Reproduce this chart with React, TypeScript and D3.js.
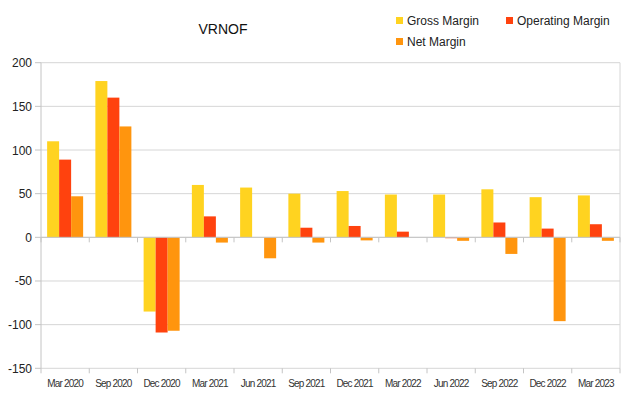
import React from "react";
import * as d3 from "d3";

const categories = ["Mar 2020", "Sep 2020", "Dec 2020", "Mar 2021", "Jun 2021", "Sep 2021", "Dec 2021", "Mar 2022", "Jun 2022", "Sep 2022", "Dec 2022", "Mar 2023"];
const grossMargin = [110, 179, -85, 60, 57, 50, 53, 49, 49, 55, 46, 48];
const operatingMargin = [89, 160, -109, 24, 0, 11, 13, 6.5, -1, 17, 10, 15];
const netMargin = [47, 127, -107, -6, -24, -6, -3.5, 0, -4, -19, -96, -4];
const seriesNames = ["Gross Margin", "Operating Margin", "Net Margin"];
const seriesColors = ["#ffd320", "#ff420e", "#ff950e"];
const yTicks = [-150, -100, -50, 0, 50, 100, 150, 200];

export default function App() {
  const width = 640, height = 408;
  const left = 41, right = 620, top = 62.7, bottom = 368.3;
  const series = [grossMargin, operatingMargin, netMargin];

  const x0 = d3.scaleBand<string>().domain(categories).range([left, right]).paddingInner(0).paddingOuter(0);
  const x1 = d3.scaleBand<number>().domain([0, 1, 2]).range([0, x0.bandwidth()]).paddingInner(0).paddingOuter(0.51);
  const y = d3.scaleLinear().domain([-150, 200]).range([bottom, top]);

  const boundaries = d3.range(categories.length + 1).map((i) => left + i * x0.step());

  return (
    <svg width={width} height={height} style={{ position: "absolute", left: 0, top: 0, background: "#fff" }} fontFamily="'Liberation Sans', Arial, sans-serif">
      <rect x={0} y={0} width={width} height={height} fill="#fff" />
      {yTicks.map((t) => (
        <g key={t}>
          <line x1={left} x2={right} y1={y(t)} y2={y(t)} stroke="#d6d6d6" strokeWidth={1} />
          <line x1={left - 6} x2={left} y1={y(t)} y2={y(t)} stroke="#c4c4c4" strokeWidth={1} />
          <text x={32} y={y(t) + 4.5} textAnchor="end" fontSize={12} fill="#222">{t}</text>
        </g>
      ))}
      <line x1={left} x2={left} y1={top} y2={bottom} stroke="#c4c4c4" />
      <line x1={right} x2={right} y1={top} y2={bottom} stroke="#d6d6d6" />
      {boundaries.map((bx, i) => (
        <line key={i} x1={bx} x2={bx} y1={bottom} y2={bottom + 5} stroke="#c4c4c4" />
      ))}
      {categories.map((c, i) => (
        <g key={c}>
          {series.map((s, k) => {
            const v = s[i];
            const yy = Math.min(y(v), y(0));
            const h = Math.abs(y(v) - y(0));
            return <rect key={k} x={(x0(c) as number) + (x1(k) as number)} y={yy} width={x1.bandwidth()} height={h} fill={seriesColors[k]} />;
          })}
          <text x={(x0(c) as number) + x0.bandwidth() / 2} y={386.5} textAnchor="middle" fontSize={10} fill="#333" letterSpacing={-0.8}>{c}</text>
        </g>
      ))}
      <line x1={left} x2={right} y1={y(0)} y2={y(0)} stroke="#c4c4c4" />
      {boundaries.map((bx, i) => (
        <line key={"z" + i} x1={bx} x2={bx} y1={y(0)} y2={y(0) + 5} stroke="#c4c4c4" />
      ))}
      <text x={223} y={33.5} textAnchor="middle" fontSize={14} fill="#111">VRNOF</text>
      {[
        { name: seriesNames[0], color: seriesColors[0], sx: 396, ty: 25 },
        { name: seriesNames[1], color: seriesColors[1], sx: 506, ty: 25 },
        { name: seriesNames[2], color: seriesColors[2], sx: 396, ty: 46 },
      ].map((l) => (
        <g key={l.name}>
          <rect x={l.sx} y={l.ty - 8} width={7} height={7} fill={l.color} />
          <text x={l.sx + 11} y={l.ty} fontSize={12} fill="#222">{l.name}</text>
        </g>
      ))}
    </svg>
  );
}
